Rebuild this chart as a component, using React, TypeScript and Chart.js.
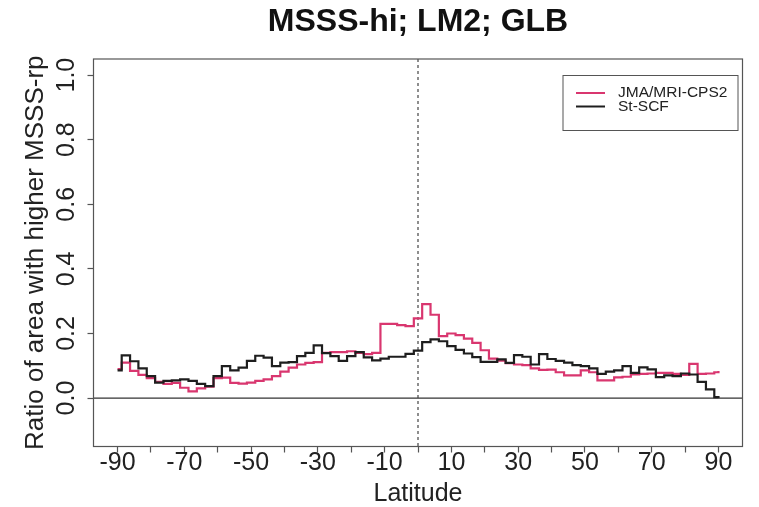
import React, { useEffect, useRef } from "react";
import { Chart, registerables } from "chart.js";

Chart.register(...registerables);

const TITLE = "MSSS-hi; LM2; GLB";
const X_TITLE = "Latitude";
const Y_TITLE = "Ratio of area with higher MSSS-rp";
const SERIES_NAMES = ["JMA/MRI-CPS2", "St-SCF"];
const SERIES_COLORS = ["#D9366F", "#1E1E1E"];

const LATITUDES = [
  -90, -88.75, -86.25, -83.75, -81.25, -78.75, -76.25, -73.75, -71.25, -68.75,
  -66.25, -63.75, -61.25, -58.75, -56.25, -53.75, -51.25, -48.75, -46.25, -43.75,
  -41.25, -38.75, -36.25, -33.75, -31.25, -28.75, -26.25, -23.75, -21.25, -18.75,
  -16.25, -13.75, -11.25, -8.75, -6.25, -3.75, -1.25, 1.25, 3.75, 6.25,
  8.75, 11.25, 13.75, 16.25, 18.75, 21.25, 23.75, 26.25, 28.75, 31.25,
  33.75, 36.25, 38.75, 41.25, 43.75, 46.25, 48.75, 51.25, 53.75, 56.25,
  58.75, 61.25, 63.75, 66.25, 68.75, 71.25, 73.75, 76.25, 78.75, 81.25,
  83.75, 86.25, 88.75, 90,
];

const JMA_MRI_CPS2 = [
  0.090, 0.110, 0.084, 0.072, 0.062, 0.050, 0.044, 0.047, 0.032, 0.021,
  0.030, 0.035, 0.062, 0.063, 0.047, 0.045, 0.048, 0.053, 0.058, 0.068,
  0.082, 0.094, 0.104, 0.109, 0.111, 0.140, 0.142, 0.142, 0.145, 0.140,
  0.136, 0.140, 0.230, 0.230, 0.226, 0.223, 0.247, 0.291, 0.258, 0.192,
  0.200, 0.195, 0.184, 0.171, 0.148, 0.122, 0.116, 0.108, 0.104, 0.102,
  0.092, 0.087, 0.088, 0.080, 0.070, 0.070, 0.086, 0.080, 0.055, 0.055,
  0.064, 0.066, 0.073, 0.075, 0.076, 0.078, 0.078, 0.075, 0.072, 0.106,
  0.075, 0.076, 0.080, 0.084,
];

const ST_SCF = [
  0.086, 0.132, 0.114, 0.092, 0.068, 0.048, 0.053, 0.055, 0.058, 0.053,
  0.044, 0.037, 0.068, 0.099, 0.086, 0.094, 0.115, 0.131, 0.125, 0.099,
  0.110, 0.111, 0.130, 0.140, 0.163, 0.139, 0.130, 0.115, 0.130, 0.142,
  0.126, 0.117, 0.122, 0.128, 0.128, 0.137, 0.147, 0.173, 0.182, 0.176,
  0.161, 0.149, 0.138, 0.127, 0.112, 0.112, 0.120, 0.109, 0.133, 0.128,
  0.104, 0.136, 0.121, 0.115, 0.110, 0.102, 0.099, 0.092, 0.075, 0.082,
  0.086, 0.099, 0.078, 0.095, 0.089, 0.065, 0.070, 0.068, 0.076, 0.073,
  0.050, 0.027, 0.003, 0.0,
];

const X_TICKS = [-90, -80, -70, -60, -50, -40, -30, -20, -10, 0, 10, 20, 30, 40, 50, 60, 70, 80, 90];
const X_TICK_LABELS = [-90, -70, -50, -30, -10, 10, 30, 50, 70, 90];
const Y_TICKS = [0, 0.2, 0.4, 0.6, 0.8, 1.0];

const FONT = "'Liberation Sans', Arial, Helvetica, sans-serif";

const framePlugin = {
  id: "rframe",
  beforeDatasetsDraw(chart: any) {
    const { ctx, chartArea: a, scales } = chart;
    const y0 = scales.y.getPixelForValue(0);
    const x0 = scales.x.getPixelForValue(0);
    ctx.save();
    ctx.strokeStyle = "#333";
    ctx.lineWidth = 1.2;
    ctx.beginPath();
    ctx.moveTo(a.left, y0);
    ctx.lineTo(a.right, y0);
    ctx.stroke();
    ctx.setLineDash([3, 3]);
    ctx.lineWidth = 1.2;
    ctx.strokeStyle = "#444";
    ctx.beginPath();
    ctx.moveTo(x0, a.top);
    ctx.lineTo(x0, a.bottom);
    ctx.stroke();
    ctx.restore();
  },
  afterDraw(chart: any) {
    const { ctx, chartArea: a } = chart;
    ctx.save();
    ctx.strokeStyle = "#555";
    ctx.lineWidth = 1.2;
    ctx.strokeRect(a.left, a.top, a.right - a.left, a.bottom - a.top);

    // legend box (top-right, inside the plot)
    const bw = 175;
    const bh = 55;
    const bx = a.right - 4.5 - bw;
    const by = a.top + 16.5;
    ctx.fillStyle = "#fff";
    ctx.fillRect(bx, by, bw, bh);
    ctx.strokeStyle = "#555";
    ctx.lineWidth = 1;
    ctx.strokeRect(bx, by, bw, bh);
    ctx.font = `15.5px ${FONT}`;
    ctx.textBaseline = "middle";
    ctx.textAlign = "left";
    SERIES_NAMES.forEach((name, i) => {
      const yy = by + 17.5 + i * 13.5;
      ctx.strokeStyle = SERIES_COLORS[i];
      ctx.lineWidth = 2;
      ctx.beginPath();
      ctx.moveTo(bx + 13, yy);
      ctx.lineTo(bx + 42, yy);
      ctx.stroke();
      ctx.fillStyle = "#222";
      ctx.fillText(name, bx + 55, yy);
    });
    ctx.restore();
  },
};

export default function App() {
  const ref = useRef<HTMLCanvasElement | null>(null);

  useEffect(() => {
    document.body.style.margin = "0";
    const canvas = ref.current;
    if (!canvas) return;
    Chart.defaults.font.family = FONT;
    const toPts = (vals: number[]) => LATITUDES.map((x, i) => ({ x, y: vals[i] }));

    const chart = new Chart(canvas, {
      type: "line",
      data: {
        datasets: [
          {
            label: SERIES_NAMES[0],
            data: toPts(JMA_MRI_CPS2),
            borderColor: SERIES_COLORS[0],
            borderWidth: 2.2,
            pointRadius: 0,
            stepped: "before",
            fill: false,
            order: 1,
          },
          {
            label: SERIES_NAMES[1],
            data: toPts(ST_SCF),
            borderColor: SERIES_COLORS[1],
            borderWidth: 2.2,
            pointRadius: 0,
            stepped: "before",
            fill: false,
            order: 0,
          },
        ],
      },
      options: {
        animation: false,
        responsive: false,
        maintainAspectRatio: false,
        layout: { padding: { top: 0, left: 0, right: 16.5, bottom: 0 } },
        plugins: {
          legend: { display: false },
          tooltip: { enabled: false },
          title: {
            display: true,
            text: TITLE,
            fullSize: false,
            color: "#111",
            font: { family: FONT, size: 32, weight: "bold", lineHeight: 1.2 },
            padding: { top: 2.8, bottom: 17.8 },
          },
        },
        scales: {
          x: {
            type: "linear",
            min: -97.2,
            max: 97.2,
            afterBuildTicks: (s: any) => {
              s.ticks = X_TICKS.map((v) => ({ value: v }));
            },
            afterFit: (s: any) => {
              s.height = 60.5;
            },
            ticks: {
              autoSkip: false,
              minRotation: 0,
              maxRotation: 0,
              padding: -2,
              color: "#222",
              font: { family: FONT, size: 25, lineHeight: 1 },
              callback: (v: any) => (X_TICK_LABELS.includes(Number(v)) ? String(v) : ""),
            },
            grid: {
              display: true,
              drawOnChartArea: false,
              drawTicks: true,
              tickLength: 6,
              tickColor: "#555",
              tickWidth: 1.2,
            },
            border: { display: false },
            title: {
              display: true,
              text: X_TITLE,
              color: "#222",
              font: { family: FONT, size: 25, lineHeight: 1 },
              padding: { top: 0, bottom: 0.5 },
            },
          },
          y: {
            type: "linear",
            min: -0.15,
            max: 1.05,
            afterBuildTicks: (s: any) => {
              s.ticks = Y_TICKS.map((v) => ({ value: v }));
            },
            afterFit: (s: any) => {
              s.width = 93.5;
            },
            ticks: {
              minRotation: 90,
              maxRotation: 90,
              crossAlign: "center",
              padding: 3,
              color: "#222",
              font: { family: FONT, size: 25, lineHeight: 1 },
              callback: (v: any) => Number(v).toFixed(1),
            },
            grid: {
              display: true,
              drawOnChartArea: false,
              drawTicks: true,
              tickLength: 6,
              tickColor: "#555",
              tickWidth: 1.2,
            },
            border: { display: false },
            title: {
              display: true,
              text: Y_TITLE,
              color: "#222",
              font: { family: FONT, size: 26, lineHeight: 1 },
              padding: { top: 23, bottom: 0 },
            },
          },
        },
      },
      plugins: [framePlugin],
    } as any);

    return () => chart.destroy();
  }, []);

  return (
    <div style={{ width: 759, height: 507 }}>
      <canvas ref={ref} width={759} height={507} style={{ display: "block" }} />
    </div>
  );
}
